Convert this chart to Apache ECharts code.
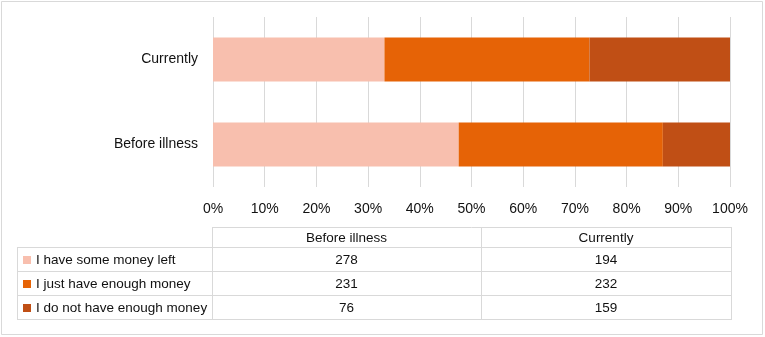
<!DOCTYPE html>
<html>
<head>
<meta charset="utf-8">
<script src="https://cdn.jsdelivr.net/npm/echarts@6/dist/echarts.min.js"></script>
<style>
  html, body { margin: 0; padding: 0; background: #fff; }
  #chart { width: 765px; height: 337px; }
</style>
</head>
<body>
<div id="chart"></div>
<script>
// data
var categories = ['Before illness', 'Currently'];
var seriesNames = ['I have some money left', 'I just have enough money', 'I do not have enough money'];
var someLeft = [278, 194];
var justEnough = [231, 232];
var notEnough = [76, 159];
var colors = ['#F8BFAE', '#E66306', '#C04F15'];

var counts = [someLeft, justEnough, notEnough];
var totals = categories.map(function (c, i) {
  return someLeft[i] + justEnough[i] + notEnough[i];
});

var font = 'Liberation Sans, Arial, sans-serif';
var gridCol = '#D9D9D9';

// data table under the chart (drawn with graphic elements)
var tbl = { left: 17, labelRight: 212, mid: 481, right: 731, top: 227, rows: [247, 271, 295, 319] };
var colCenters = [(tbl.labelRight + tbl.mid) / 2, (tbl.mid + tbl.right) / 2];
var graphics = [];

function hline(x1, x2, y) {
  graphics.push({ type: 'line', silent: true, shape: { x1: x1, y1: y + 0.5, x2: x2, y2: y + 0.5 }, style: { stroke: gridCol, lineWidth: 1 } });
}
function vline(x, y1, y2) {
  graphics.push({ type: 'line', silent: true, shape: { x1: x + 0.5, y1: y1, x2: x + 0.5, y2: y2 }, style: { stroke: gridCol, lineWidth: 1 } });
}
function txt(x, y, s, align) {
  graphics.push({ type: 'text', silent: true, x: x, y: y, style: { text: s, font: '13.5px ' + font, fill: '#111', align: align, verticalAlign: 'middle' } });
}

// outer border
graphics.push({ type: 'rect', silent: true, shape: { x: 1.5, y: 1.5, width: 761, height: 333 }, style: { fill: null, stroke: gridCol, lineWidth: 1 } });

hline(tbl.labelRight, tbl.right, tbl.top);
tbl.rows.forEach(function (y) { hline(tbl.left, tbl.right, y); });
vline(tbl.left, tbl.rows[0], tbl.rows[3]);
vline(tbl.labelRight, tbl.top, tbl.rows[3] + 1);
vline(tbl.mid, tbl.top, tbl.rows[3] + 1);
vline(tbl.right, tbl.top, tbl.rows[3] + 1);

categories.forEach(function (c, j) {
  txt(colCenters[j], (tbl.top + tbl.rows[0]) / 2 + 1, c, 'center');
});
seriesNames.forEach(function (name, i) {
  var cy = (tbl.rows[i] + tbl.rows[i + 1]) / 2 + 1;
  graphics.push({ type: 'rect', silent: true, shape: { x: 23, y: cy - 4, width: 8, height: 8 }, style: { fill: colors[i] } });
  txt(36, cy, name, 'left');
  counts[i].forEach(function (v, j) {
    txt(colCenters[j], cy, String(v), 'center');
  });
});

var chart = echarts.init(document.getElementById('chart'));
var option = {
  backgroundColor: '#fff',
  animation: false,
  grid: { left: 213, right: 35, top: 17, height: 170 },
  xAxis: {
    type: 'value',
    min: 0,
    max: 100,
    interval: 10,
    axisLine: { show: false },
    axisTick: { show: false },
    axisLabel: { formatter: '{value}%', color: '#111', fontSize: 14, fontFamily: font, margin: 15 },
    splitLine: { show: true, lineStyle: { color: gridCol, width: 1 } }
  },
  yAxis: {
    type: 'category',
    data: categories,
    axisLine: { show: false },
    axisTick: { show: false },
    axisLabel: { color: '#111', fontSize: 14, fontFamily: font, margin: 15 }
  },
  series: seriesNames.map(function (name, i) {
    return {
      name: name,
      type: 'bar',
      stack: 'total',
      barWidth: 44,
      itemStyle: { color: colors[i] },
      data: counts[i].map(function (v, j) { return v / totals[j] * 100; })
    };
  }),
  graphic: graphics
};
chart.setOption(option);
</script>
</body>
</html>
